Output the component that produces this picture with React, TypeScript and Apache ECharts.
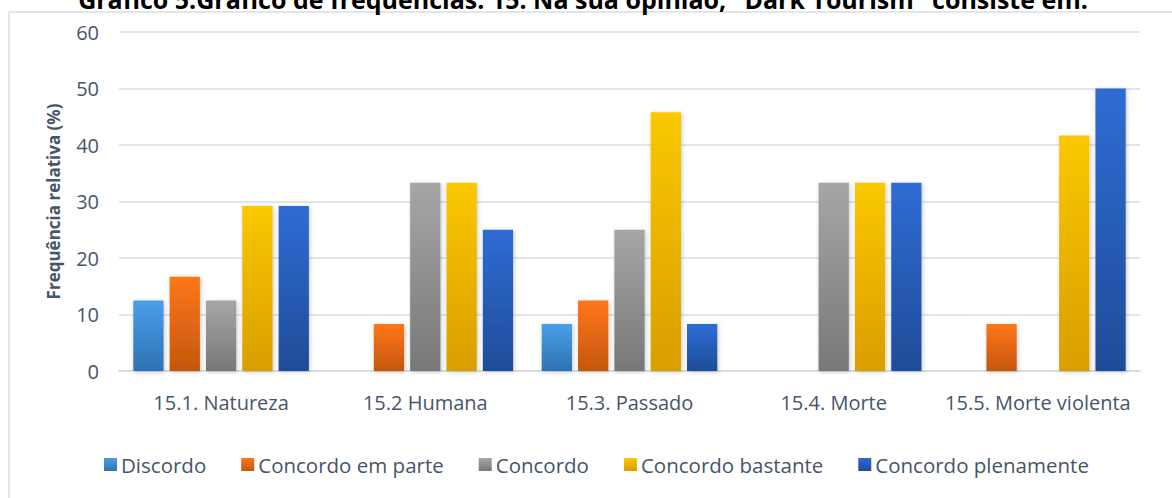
import React, { useEffect, useRef } from "react";
import * as echarts from "echarts";

const categories = ["15.1. Natureza", "15.2 Humana", "15.3. Passado", "15.4. Morte", "15.5. Morte violenta"];
const seriesNames = ["Discordo", "Concordo em parte", "Concordo", "Concordo bastante", "Concordo plenamente"];
const discordo = [12.5, 0, 8.3, 0, 0];
const concordoEmParte = [16.7, 8.3, 12.5, 0, 8.3];
const concordo = [12.5, 33.3, 25, 33.3, 0];
const concordoBastante = [29.2, 33.3, 45.8, 33.3, 41.7];
const concordoPlenamente = [29.2, 25, 8.3, 33.3, 50];
const yTicks = [0, 10, 20, 30, 40, 50, 60];

const titleText = 'Gráfico 5.Gráfico de frequências: 15. Na sua opinião, "Dark Tourism" consiste em:';

const gradients: [string, string][] = [
  ["#4a9ee8", "#2e72b4"],
  ["#ff7618", "#c4570f"],
  ["#a6a6a6", "#787878"],
  ["#fac800", "#d99e00"],
  ["#2f6cd4", "#1f4c98"],
];

export default function App() {
  const ref = useRef<HTMLDivElement>(null);
  useEffect(() => {
    if (!ref.current) return;
    const chart = echarts.init(ref.current, null, { renderer: "svg" });
    const allData = [discordo, concordoEmParte, concordo, concordoBastante, concordoPlenamente];
    const font = "'Open Sans', sans-serif";
    const textColor = "#475569";
    chart.setOption({
      animation: false,
      textStyle: { fontFamily: font },
      graphic: [
        {
          type: "rect",
          shape: { x: 9, y: 12, width: 1300, height: 700 },
          style: { fill: "none", stroke: "#d9dde3", lineWidth: 1.5 },
          silent: true,
          z: -10,
        },
        {
          type: "text",
          x: 583,
          y: 11,
          style: {
            text: titleText,
            font: "bold 25px 'Open Sans', sans-serif",
            fill: "#000000",
            textAlign: "center",
            textVerticalAlign: "bottom",
          },
        },
      ],
      grid: { left: 119, right: 32, top: 32, bottom: 127, containLabel: false },
      legend: {
        data: seriesNames,
        left: 99,
        top: 449,
        itemWidth: 13,
        itemHeight: 13,
        itemGap: 35,
        icon: "rect",
        textStyle: { fontSize: 20.5, color: textColor, fontFamily: font, padding: [0, 0, 0, -1] },
      },
      xAxis: {
        type: "category",
        data: categories,
        axisLine: { lineStyle: { color: "#d9dde3", width: 2 } },
        axisTick: { show: false },
        axisLabel: { fontSize: 20, color: textColor, margin: 21, fontFamily: font, interval: 0 },
      },
      yAxis: {
        type: "value",
        min: 0,
        max: yTicks[yTicks.length - 1],
        interval: 10,
        name: "Frequência relativa (%)",
        nameLocation: "middle",
        nameGap: 57,
        nameTextStyle: { fontSize: 17, fontWeight: "bold", color: textColor, fontFamily: font },
        axisLine: { show: false },
        axisTick: { show: false },
        axisLabel: { fontSize: 20, color: textColor, margin: 20, fontFamily: font },
        splitLine: { lineStyle: { color: "#d9dde3", width: 1.5 } },
      },
      series: allData.map((d, i) => ({
        name: seriesNames[i],
        type: "bar",
        data: d,
        barGap: "20%",
        barCategoryGap: "14%",
        itemStyle: {
          color: new echarts.graphic.LinearGradient(0, 0, 0, 1, [
            { offset: 0, color: gradients[i][0] },
            { offset: 1, color: gradients[i][1] },
          ]),
          shadowBlur: 4,
          shadowColor: "rgba(0,0,0,0.22)",
          shadowOffsetX: 1,
          shadowOffsetY: 1,
        },
      })),
    });
    return () => chart.dispose();
  }, []);
  return (
    <div
      ref={ref}
      style={{ position: "fixed", left: 0, top: 0, width: 1172, height: 498, background: "#ffffff" }}
    />
  );
}
